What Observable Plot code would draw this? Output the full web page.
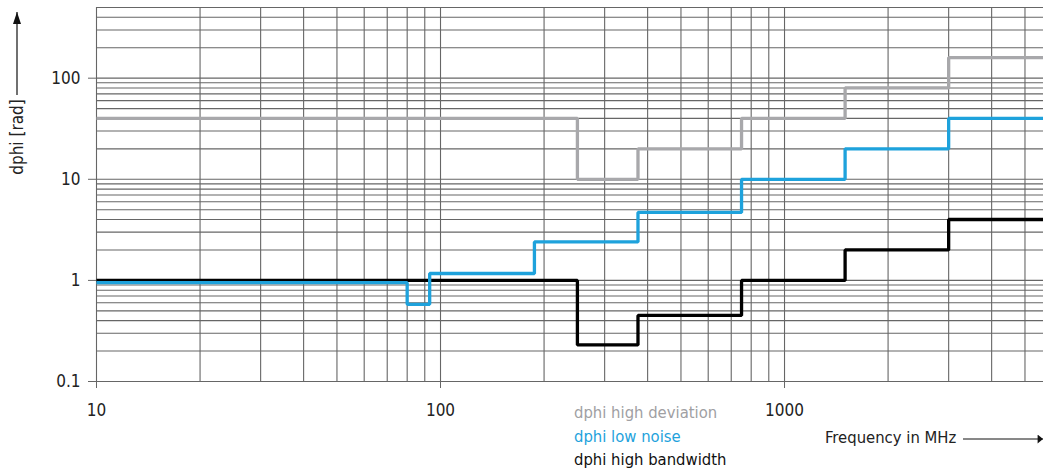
<!DOCTYPE html>
<html><head><meta charset="utf-8">
<script src="https://cdn.jsdelivr.net/npm/d3@7"></script>
<script src="https://cdn.jsdelivr.net/npm/@observablehq/plot@0.6"></script>
<style>
body{margin:0;background:#fff;}
#wrap{position:relative;width:1043px;height:472px;overflow:hidden;font-family:"Liberation Sans Narrow","DejaVu Sans Condensed","Roboto",sans-serif;}
#wrap svg{position:absolute;left:0;top:0;}
.t{position:absolute;white-space:nowrap;font-size:16.5px;line-height:1;}
</style></head><body><div id="wrap"></div>
<script>
// Breakpoint frequencies (MHz) and levels (rad) for each step series
const devFreq = [10, 250, 375, 750, 1500, 3000, 5700];
const devVal  = [40, 10, 20, 40, 80, 160, 160];
const lowFreq = [10, 80, 93, 187.5, 375, 750, 1500, 3000, 5700];
const lowVal  = [0.95, 0.58, 1.17, 2.4, 4.7, 10, 20, 40, 40];
const bwFreq  = [10, 250, 375, 750, 1500, 3000, 5700];
const bwVal   = [1, 0.23, 0.45, 1, 2, 4, 4];

const xTicks = [10, 100, 1000];
const yTicks = [0.1, 1, 10, 100];
const xGrid = [10,20,30,40,50,60,70,80,90,100,200,300,400,500,600,700,800,900,1000,2000,3000,4000,5000];
const yGrid = [0.1,0.2,0.3,0.4,0.5,0.6,0.7,0.8,0.9,1,2,3,4,5,6,7,8,9,10,20,30,40,50,60,70,80,90,100,200,300,400,500];

const seriesNames = ["dphi high deviation", "dphi low noise", "dphi high bandwidth"];
const seriesColors = ["#a8a8ab", "#1ea2dc", "#000000"];

const toRows = (fs, vs) => fs.map((f, i) => ({f, v: vs[i]}));
const dev = toRows(devFreq, devVal), low = toRows(lowFreq, lowVal), bw = toRows(bwFreq, bwVal);

const font = '"Liberation Sans Narrow","DejaVu Sans Condensed","Roboto",sans-serif';
const fmt = d => String(d);

const chart = Plot.plot({
  width: 1043, height: 472,
  marginLeft: 96, marginRight: 0, marginTop: 7, marginBottom: 91,
  style: {fontFamily: font, fontSize: "17px", color: "#222", background: "white", overflow: "hidden"},
  x: {type: "log", domain: [10, 5660]},
  y: {type: "log", domain: [0.1, 500]},
  marks: [
    Plot.gridX(xGrid, {stroke: "#666", strokeOpacity: 1, strokeWidth: 1.1}),
    Plot.gridY(yGrid, {stroke: "#666", strokeOpacity: 1, strokeWidth: 1.1}),
    Plot.axisX(xTicks, {tickSize: 7, tickPadding: 15, tickFormat: fmt, label: null, stroke: "#666", fill: "#222"}),
    Plot.axisY(yTicks, {tickSize: 8, tickPadding: 8, tickFormat: fmt, label: null, stroke: "#666", fill: "#222"}),
    Plot.line(dev, {x: "f", y: "v", curve: "step-after", stroke: seriesColors[0], strokeWidth: 3.3, strokeLinejoin: "miter", strokeLinecap: "butt"}),
    Plot.line(bw,  {x: "f", y: "v", curve: "step-after", stroke: seriesColors[2], strokeWidth: 3.3, strokeLinejoin: "miter", strokeLinecap: "butt"}),
    Plot.line(low, {x: "f", y: "v", curve: "step-after", stroke: seriesColors[1], strokeWidth: 3.3, strokeLinejoin: "miter", strokeLinecap: "butt"})
  ]
});

const wrap = document.getElementById("wrap");
wrap.appendChild(chart);

// Overlay: axis titles with arrows
const ns = "http://www.w3.org/2000/svg";
const ov = document.createElementNS(ns, "svg");
ov.setAttribute("width", 1043); ov.setAttribute("height", 472);
ov.innerHTML = `
  <defs><marker id="ah" viewBox="0 0 6 10" refX="6" refY="5" markerWidth="6" markerHeight="9" markerUnits="userSpaceOnUse" orient="auto"><path d="M0,0L6,5L0,10z" fill="#111"/></marker>
  <marker id="ah2" viewBox="0 0 12 8" refX="12" refY="4" markerWidth="12" markerHeight="8" markerUnits="userSpaceOnUse" orient="auto"><path d="M0,0L12,4L0,8z" fill="#111"/></marker></defs>
  <line x1="17" y1="95" x2="17" y2="12" stroke="#111" stroke-width="1.2" marker-end="url(#ah2)"/>
  <text transform="translate(23,137) rotate(-90)" text-anchor="middle" font-family='${font}' font-size="17" fill="#222">dphi [rad]</text>
  <line x1="963" y1="439" x2="1043" y2="439" stroke="#111" stroke-width="1" marker-end="url(#ah)"/>
  <text x="825" y="443" font-family='${font}' font-size="16.5" fill="#222">Frequency in MHz</text>
`;
wrap.appendChild(ov);

// Legend
const legendColors = ["#a0a0a3", "#1ea2dc", "#111"];
seriesNames.forEach((name, i) => {
  const d = document.createElement("div");
  d.className = "t";
  d.style.left = "574px";
  d.style.top = (405 + i * 23.5) + "px";
  d.style.color = legendColors[i];
  d.textContent = name;
  wrap.appendChild(d);
});
</script>
</body></html>
